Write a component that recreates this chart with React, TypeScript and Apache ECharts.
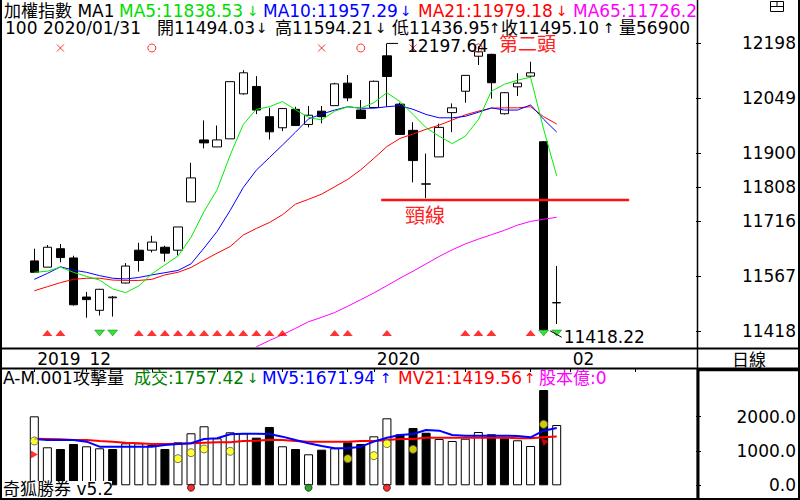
import React, { useEffect, useRef } from 'react';
import * as echarts from 'echarts';

// ---------------- data ----------------
const leadingDates = ['2019/11/22', '2019/11/25'];
const tradeDates = [
  '2019/11/26', '2019/11/27', '2019/11/28', '2019/11/29',
  '2019/12/02', '2019/12/03', '2019/12/04', '2019/12/05', '2019/12/06',
  '2019/12/09', '2019/12/10', '2019/12/11', '2019/12/12', '2019/12/13',
  '2019/12/16', '2019/12/17', '2019/12/18', '2019/12/19', '2019/12/20',
  '2019/12/23', '2019/12/24', '2019/12/25', '2019/12/26', '2019/12/27',
  '2019/12/30', '2019/12/31', '2020/01/02', '2020/01/03',
  '2020/01/06', '2020/01/07', '2020/01/08', '2020/01/09', '2020/01/10',
  '2020/01/13', '2020/01/14', '2020/01/15', '2020/01/16', '2020/01/17',
  '2020/01/20', '2020/01/30', '2020/01/31',
];
const futureDates = [
  '2020/02/03', '2020/02/04', '2020/02/05', '2020/02/06', '2020/02/07',
  '2020/02/10', '2020/02/11', '2020/02/12', '2020/02/13', '2020/02/14',
];
const categories = [...leadingDates, ...tradeDates, ...futureDates];

const opens = [11608, 11591, 11641, 11616, 11510, 11474, 11508, 11548, 11637, 11637, 11645, 11637, 11768, 11936, 11917, 11939, 12061, 12081, 11999, 11969, 12019, 11978, 12014, 12029, 12090, 12017, 12024, 12164, 12033, 11962, 11816, 11890, 12010, 12068, 12163, 12168, 12007, 12080, 12109, 11931, 11494.03];
const closes = [11577, 11645, 11617, 11489, 11503, 11531, 11510, 11594, 11609, 11659, 11629, 11700, 11833, 11928, 11936, 12094, 12118, 12017, 11958, 12021, 11975, 12003, 11999, 12088, 12050, 11994, 12095, 12108, 11951, 11880, 11817, 11970, 12023, 12111, 12175, 12091, 12064, 12090, 12118, 11422, 11495.10];
const lows = [11577, 11591, 11604, 11487, 11454, 11460, 11457, 11547, 11579, 11631, 11606, 11623, 11768, 11913, 11917, 11939, 12059, 12006, 11937, 11960, 11975, 11970, 11981, 12029, 12041, 11994, 12024, 12026, 11951, 11821, 11778, 11890, 11957, 12037, 12139, 12048, 12005, 12055, 12106, 11418.22, 11436.95];
const highs = [11641, 11651, 11654, 11622, 11524, 11532, 11513, 11602, 11657, 11676, 11649, 11700, 11874, 11989, 11975, 12094, 12125, 12109, 12023, 12021, 12026, 12028, 12028, 12091, 12112, 12044, 12097, 12197.64, 12037, 11984, 11899, 11980, 12035, 12112, 12190, 12170, 12066, 12117, 12148, 11933, 11594.21];

const ma5 = [11577, 11580, 11591, 11577, 11566, 11556, 11532, 11522, 11540, 11573, 11597, 11621, 11672, 11742, 11801, 11895, 11978, 12019, 12026, 12040, 12018, 11997, 11990, 12014, 12026, 12022, 12037, 12064, 12040, 12005, 11969, 11946, 11926, 11946, 11991, 12068, 12087, 12098, 12106, 11965, 11838.53];
const ma10 = [11558, 11574, 11592, 11583, 11577, 11568, 11561, 11559, 11563, 11570, 11576, 11582, 11600, 11643, 11688, 11745, 11807, 11854, 11888, 11922, 11957, 11993, 12006, 12017, 12026, 12022, 12022, 12026, 12029, 12019, 12005, 11996, 11996, 12000, 12011, 12023, 12017, 12017, 12031, 11992, 11957.29];
const ma21 = [11527, 11538, 11549, 11558, 11561, 11561, 11556, 11555, 11555, 11558, 11570, 11577, 11590, 11610, 11629, 11647, 11678, 11696, 11712, 11733, 11762, 11775, 11789, 11809, 11829, 11855, 11886, 11918, 11940, 11952, 11965, 11976, 11990, 12004, 12014, 12022, 12023, 12023, 12026, 11999, 11979.18];
const ma65 = [null, null, null, null, null, null, null, null, null, null, null, null, null, null, null, null, null, 11375, 11392, 11408, 11425, 11443, 11455, 11468, 11485, 11503, 11521, 11541, 11561, 11580, 11600, 11620, 11638, 11654, 11667, 11679, 11691, 11705, 11715, 11721, 11726.21];

const volumes = [2011, 1108, 1058, 1204, 1137, 1079, 1058, 1224, 1224, 1175, 1058, 1253, 1516, 1720, 1370, 1545, 1516, 1388, 1700, 1137, 1058, 904, 1038, 1079, 1253, 1204, 1428, 1953, 1487, 1670, 1533, 1350, 1291, 1358, 1554, 1487, 1370, 1312, 1146, 2778, 1757.42];
const volumeHollow = [1, 1, 0, 0, 1, 1, 0, 1, 1, 1, 0, 1, 1, 1, 1, 1, 1, 0, 0, 1, 0, 1, 0, 1, 0, 0, 1, 1, 0, 0, 0, 1, 1, 1, 1, 0, 0, 1, 1, 0, 1];
const mv5 = [1350, 1320, 1320, 1320, 1272, 1126, 1126, 1126, 1126, 1126, 1175, 1205, 1224, 1350, 1370, 1486, 1506, 1506, 1496, 1418, 1320, 1224, 1146, 1078, 1078, 1126, 1272, 1388, 1467, 1496, 1613, 1593, 1467, 1447, 1447, 1447, 1447, 1438, 1399, 1593, 1671.94];
const mv21 = [1359, 1350, 1341, 1320, 1320, 1292, 1272, 1243, 1224, 1205, 1205, 1214, 1224, 1243, 1253, 1253, 1292, 1301, 1330, 1320, 1292, 1272, 1272, 1272, 1272, 1292, 1292, 1320, 1350, 1350, 1388, 1388, 1388, 1388, 1388, 1388, 1388, 1370, 1370, 1399, 1419.56];
const attackDots = [1292, null, null, null, null, null, null, null, null, null, null, 776, 951, 1059, null, 991, null, null, null, null, null, null, null, null, 776, null, 864, 1214, null, 1049, null, null, null, null, null, null, null, null, null, 1778, null];

const buyIdx = [1, 2, 8, 9, 10, 11, 12, 13, 14, 15, 16, 17, 18, 19, 23, 24, 27, 33, 34, 35, 38];
const sellIdx = [5, 6, 39, 40];
const crossIdx = [2, 22, 29, 39];
const circleIdx = [9, 25, 34];
const volRedIdx = [12, 27];
const volGreenIdx = [21];
const volFlagIdx = [0];
const volArrowIdx = [39];

const priceTicks = [12198, 12049, 11900, 11808, 11716, 11567, 11418];
const volumeTicks = [0, 1000, 2000];
const dateTickDates = ['2019/11/26', '2019/12/02', '2019/12/09', '2019/12/16', '2019/12/23', '2019/12/30', '2020/01/02', '2020/01/13', '2020/01/20', '2020/02/03', '2020/02/10'];
const dateLabels: Record<string, string> = { '2019/11/26': '2019', '2019/12/02': '12', '2020/01/02': '2020', '2020/02/03': '02' };

const necklinePrice = 11773;
const highPrice = 12197.64;
const lowPrice = 11418.22;

const PRICE_MIN = 11371.8;
const PRICE_MAX = 12310;
const VOL_MIN = -341;
const VOL_MAX = 3361;

// ---------------- layout ----------------
const FONT = "'DejaVu Sans', 'Noto Sans CJK TC', sans-serif";
const SLOT = 13.06;
const GRID_LEFT = 1.65;
const N = categories.length;
const GRID_RIGHT = 800 - (GRID_LEFT + N * SLOT);
const AXIS_X = 697;
const LEAD = leadingDates.length;

const pad = (arr: any[]) => [...leadingDates.map(() => '-'), ...arr.map((v) => (v == null ? '-' : v)), ...futureDates.map(() => '-')];
const marks = (idx: number[]) => pad(tradeDates.map((_, i) => (idx.includes(i) ? 0 : null)));

function hiddenX(gridIndex: number) {
  return {
    type: 'category', data: categories, gridIndex, boundaryGap: true,
    axisLine: { show: false }, axisTick: { show: false }, axisLabel: { show: false }, splitLine: { show: false },
  };
}
function hiddenY(gridIndex: number, min: number, max: number) {
  return { type: 'value', gridIndex, min, max, show: false, splitLine: { show: false } };
}
const gridBox = (top: number, height: number) => ({ left: GRID_LEFT, right: GRID_RIGHT, top, height, show: false });
const axisGrid = (top: number, height: number) => ({ left: AXIS_X - 1, right: 800 - AXIS_X, top, height, show: false });

function txt(text: string, x: number, y: number, fill: string, size = 17, extra: any = {}) {
  return {
    type: 'text', x, y, z: 100,
    style: { text, fill, fontSize: size, fontFamily: FONT, verticalAlign: 'middle', align: 'left', ...extra },
  };
}
function arrow(up: boolean, x: number, y: number, fill: string) {
  return txt(up ? '↑' : '↓', x, y, fill, 14);
}
function ln(x1: number, y1: number, x2: number, y2: number, w: number, z = 110) {
  return { type: 'line', z, shape: { x1, y1, x2, y2 }, style: { stroke: '#000', lineWidth: w } };
}
function sideAxis(gridIndex: number, min: number, max: number, ticks: number[], fmt: (v: number) => string) {
  return {
    type: 'value', gridIndex, position: 'right', min, max,
    axisLine: { show: false }, splitLine: { show: false },
    axisTick: { show: true, customValues: ticks, length: 5, lineStyle: { color: '#000', width: 1 } },
    axisLabel: {
      show: true, customValues: ticks, align: 'right', margin: 99, color: '#000',
      fontSize: 17, fontFamily: FONT, formatter: fmt,
    },
  };
}

function buildOption(): any {
  const candleData = pad(tradeDates.map((_, i) => [opens[i], closes[i], lows[i], highs[i]]));
  const volData = pad(tradeDates.map((_, i) => ({
    value: volumes[i],
    itemStyle: { color: volumeHollow[i] ? '#ffffff' : '#000000' },
  })));
  const lineBase = (name: string, data: any[], color: string, width = 1, xi = 0, yi = 0) => ({
    name, type: 'line', xAxisIndex: xi, yAxisIndex: yi, data, symbol: 'none', showSymbol: false,
    lineStyle: { color, width }, itemStyle: { color }, connectNulls: false, z: 3,
  });
  const catPos = (i: number) => i + LEAD;
  const R1 = 10.5;
  const R2 = 28;
  const RV = 378;

  return {
    animation: false,
    backgroundColor: '#ffffff',
    grid: [
      gridBox(2, 346),      // 0 price
      gridBox(348, 20),     // 1 dates
      gridBox(370, 127),    // 2 volume
      gridBox(43, 10),      // 3 x / o marks
      gridBox(328, 10),     // 4 triangles
      gridBox(483.7, 8),    // 5 volume signal dots
      axisGrid(2, 346),     // 6 price scale
      axisGrid(370, 127),   // 7 volume scale
    ],
    xAxis: [
      hiddenX(0),
      {
        type: 'category', data: categories, gridIndex: 1, boundaryGap: true, position: 'top',
        axisLine: { show: false }, splitLine: { show: false },
        axisTick: {
          show: true, inside: true, length: 4, alignWithLabel: true,
          interval: (_i: number, v: string) => dateTickDates.includes(v),
          lineStyle: { color: '#000', width: 1 },
        },
        axisLabel: {
          show: true, inside: true, margin: 10.5, align: 'left', verticalAlign: 'middle',
          padding: [0, 0, 0, 3], color: '#000', fontSize: 17, fontFamily: FONT,
          interval: (_i: number, v: string) => dateLabels[v] !== undefined,
          formatter: (v: string) => dateLabels[v] || '',
        },
      },
      hiddenX(2),
      hiddenX(3),
      hiddenX(4),
      hiddenX(5),
      { type: 'value', gridIndex: 0, position: 'top', min: -0.5, max: N - 0.5, show: false, splitLine: { show: false } },
      { type: 'value', gridIndex: 6, min: 0, max: 1, show: false },
      { type: 'value', gridIndex: 7, min: 0, max: 1, show: false },
    ],
    yAxis: [
      hiddenY(0, PRICE_MIN, PRICE_MAX),
      hiddenY(1, 0, 1),
      hiddenY(2, VOL_MIN, VOL_MAX),
      hiddenY(3, -1, 1),
      hiddenY(4, -1, 1),
      hiddenY(5, -1, 1),
      sideAxis(6, PRICE_MIN, PRICE_MAX, priceTicks, (v: number) => String(v)),
      sideAxis(7, VOL_MIN, VOL_MAX, volumeTicks, (v: number) => v.toFixed(1)),
    ],
    series: [
      {
        name: 'K', type: 'candlestick', xAxisIndex: 0, yAxisIndex: 0, data: candleData, barWidth: 9,
        itemStyle: { color: '#ffffff', color0: '#000000', borderColor: '#000000', borderColor0: '#000000', borderWidth: 1 },
        z: 2,
      },
      lineBase('MA65', pad(ma65), '#ff00ff'),
      lineBase('MA21', pad(ma21), '#ff0000'),
      lineBase('MA10', pad(ma10), '#0000ff'),
      lineBase('MA5', pad(ma5), '#00ee00'),
      {
        name: 'neck', type: 'line', xAxisIndex: 6, yAxisIndex: 0, symbol: 'none', z: 5,
        data: [[28.56, necklinePrice], [47.55, necklinePrice]],
        lineStyle: { color: '#ff1010', width: 2.5 },
      },
      {
        name: 'high', type: 'line', xAxisIndex: 6, yAxisIndex: 0, symbol: 'none', z: 5,
        data: [[catPos(27), highPrice], [catPos(27) + 0.85, highPrice]],
        lineStyle: { color: '#000', width: 1 },
        endLabel: { show: true, formatter: highPrice.toFixed(2), distance: 9, offset: [0, 3], color: '#000', fontSize: 17, fontFamily: FONT },
      },
      {
        name: 'low', type: 'line', xAxisIndex: 6, yAxisIndex: 0, symbol: 'none', z: 5,
        data: [[catPos(39) + 0.5, lowPrice], [catPos(39) + 1.38, 11401]],
        lineStyle: { color: '#000', width: 1 },
        endLabel: { show: true, formatter: lowPrice.toFixed(2), distance: 2, color: '#000', fontSize: 17, fontFamily: FONT },
      },
      {
        name: 'buy', type: 'scatter', xAxisIndex: 4, yAxisIndex: 4, data: marks(buyIdx),
        symbol: 'triangle', symbolSize: [10, 6], itemStyle: { color: '#ff0000' }, z: 4,
      },
      {
        name: 'sell', type: 'scatter', xAxisIndex: 4, yAxisIndex: 4, data: marks(sellIdx),
        symbol: 'triangle', symbolRotate: 180, symbolSize: [10, 6], itemStyle: { color: '#00dd00', borderColor: '#006600', borderWidth: 0.5 }, z: 4,
      },
      {
        name: 'cross', type: 'scatter', xAxisIndex: 3, yAxisIndex: 3, data: marks(crossIdx),
        symbol: 'path://M0,0L10,10M10,0L0,10', symbolSize: 7,
        itemStyle: { color: 'rgba(0,0,0,0)', borderColor: '#ff0000', borderWidth: 1 }, z: 4,
      },
      {
        name: 'circle', type: 'scatter', xAxisIndex: 3, yAxisIndex: 3, data: marks(circleIdx),
        symbol: 'circle', symbolSize: 8,
        itemStyle: { color: 'rgba(0,0,0,0)', borderColor: '#ff0000', borderWidth: 1 }, z: 4,
      },
      {
        name: 'vol', type: 'bar', xAxisIndex: 2, yAxisIndex: 2, data: volData, barWidth: 9,
        itemStyle: { borderColor: '#000', borderWidth: 1 }, z: 2,
      },
      lineBase('MV21', pad(mv21), '#ff0000', 2, 2, 2),
      lineBase('MV5', pad(mv5), '#0000ff', 2, 2, 2),
      {
        name: 'attack', type: 'scatter', xAxisIndex: 2, yAxisIndex: 2, data: pad(attackDots),
        symbol: 'circle', symbolSize: 8, itemStyle: { color: '#ffff00', borderColor: '#555', borderWidth: 1 }, z: 6,
      },
      {
        name: 'flag', type: 'scatter', xAxisIndex: 2, yAxisIndex: 2,
        data: pad(tradeDates.map((_, i) => (volFlagIdx.includes(i) ? 900 : null))),
        symbol: 'triangle', symbolRotate: -90, symbolSize: [8, 7], itemStyle: { color: '#ff0000' }, z: 6,
      },
      {
        name: 'arrow', type: 'scatter', xAxisIndex: 2, yAxisIndex: 2,
        data: pad(tradeDates.map((_, i) => (volArrowIdx.includes(i) ? 1290 : null))),
        symbol: 'triangle', symbolRotate: 45, symbolSize: [7, 7], itemStyle: { color: '#ff0000' }, z: 6,
      },
      {
        name: 'vred', type: 'scatter', xAxisIndex: 5, yAxisIndex: 5, data: marks(volRedIdx),
        symbol: 'circle', symbolSize: 7, itemStyle: { color: '#ee0000', borderColor: '#400', borderWidth: 1 }, z: 6,
      },
      {
        name: 'vgreen', type: 'scatter', xAxisIndex: 5, yAxisIndex: 5, data: marks(volGreenIdx),
        symbol: 'circle', symbolSize: 7, itemStyle: { color: '#008800', borderColor: '#030', borderWidth: 1 }, z: 6,
      },
    ],
    graphic: [
      // header row 1
      txt('加權指數 MA1', 4, R1, '#000'),
      txt('MA5:11838.53', 119, R1, '#00dd00'), arrow(false, 247, R1, '#00dd00'),
      txt('MA10:11957.29', 263, R1, '#0000ff'), arrow(false, 400, R1, '#0000ff'),
      txt('MA21:11979.18', 418, R1, '#ff0000'), arrow(false, 556, R1, '#ff0000'),
      txt('MA65:11726.21', 573, R1, '#ff00ff'),
      // header row 2
      txt('100', 5, R2, '#000'),
      txt('2020/01/31', 43, R2, '#000'),
      txt('開11494.03', 157, R2, '#000'), arrow(false, 256, R2, '#000'),
      txt('高11594.21', 275, R2, '#000'), arrow(false, 375, R2, '#000'),
      txt('低11436.95', 392, R2, '#000'), arrow(true, 489, R2, '#000'),
      txt('收11495.10', 501, R2, '#000'), arrow(true, 603, R2, '#000'),
      txt('量56900', 619, R2, '#000'),
      // cover overflow into right panel
      { type: 'rect', z: 105, shape: { x: 698.5, y: 0, width: 98.5, height: 21 }, style: { fill: '#fff' } },
      // window icon
      { type: 'rect', z: 106, shape: { x: 770.5, y: 1.5, width: 13, height: 10 }, style: { fill: '#fff', stroke: '#000', lineWidth: 1 } },
      ln(770.5, 6.5, 783.5, 6.5, 1, 107),
      ln(777, 1.5, 777, 6.5, 1, 107),
      // annotations
      txt('第二頭', 499, 44, '#ff2020', 19),
      txt('頸線', 405, 216, '#ff2020', 20),
      // volume header
      txt('A-M.001攻擊量', 3, RV, '#000'),
      txt('成交:1757.42', 134, RV, '#008000'), arrow(false, 247, RV, '#008000'),
      txt('MV5:1671.94', 262, RV, '#0000ff'), arrow(true, 380, RV, '#0000ff'),
      txt('MV21:1419.56', 398, RV, '#ff0000'), arrow(true, 524, RV, '#ff0000'),
      txt('股本億:0', 539, RV, '#ff00ff'),
      // date strip right
      txt('日線', 749, 360, '#000', 17, { align: 'center' }),
      // footer
      { type: 'rect', z: 100, shape: { x: 0, y: 481, width: 112, height: 17 }, style: { fill: '#fff' } },
      txt('奇狐勝券 v5.2', 3, 489, '#000', 17, {}),
      // frame lines
      ln(1, 0, 1, 500, 2),
      ln(799, 0, 799, 500, 2),
      ln(0, 499, 800, 499, 2),
      ln(697.5, 0, 697.5, 499, 1.5),
      ln(0, 348.5, 800, 348.5, 2),
      ln(0, 368.5, 800, 368.5, 2),
      ln(698, 368, 698, 499, 3),
      ln(697, 369.7, 800, 369.7, 3),
    ],
  };
}

export default function App() {
  const ref = useRef<HTMLDivElement>(null);
  useEffect(() => {
    document.body.style.margin = '0';
    const chart = echarts.init(ref.current as HTMLDivElement, null, { renderer: 'svg' });
    chart.setOption(buildOption());
    return () => chart.dispose();
  }, []);
  return <div ref={ref} style={{ width: 800, height: 500, background: '#fff' }} />;
}
